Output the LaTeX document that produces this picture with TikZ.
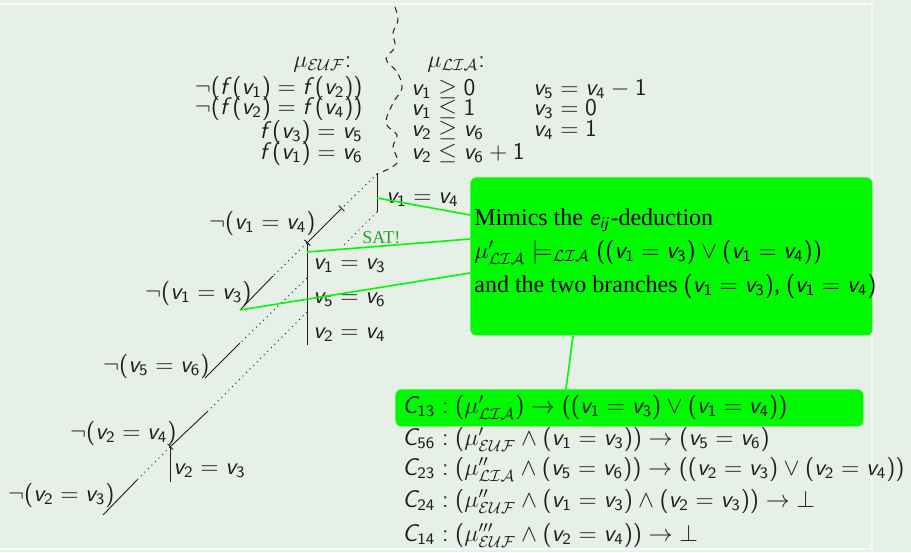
\documentclass[tikz,border=0pt]{standalone}
\usepackage{amsmath, amssymb}
\usepackage[no-math]{fontspec}
\newfontfamily\serifbox{Liberation Serif}
\usetikzlibrary{arrows.meta, positioning, calc}

% sans serif math, as on the slide
\DeclareSymbolFont{operators}{OT1}{cmss}{m}{n}
\SetSymbolFont{operators}{bold}{OT1}{cmss}{bx}{n}
\DeclareMathAlphabet{\mathsi}{OT1}{cmss}{m}{sl}
\newcommand{\sv}[1]{\mathsi{v}_{#1}}
\newcommand{\sff}{\mathsi{f}}
\newcommand{\clause}[1]{\mathsi{C}_{#1}}

\definecolor{blockbg}{RGB}{230,240,230}
\definecolor{blockrule}{RGB}{245,250,245}
\definecolor{hilite}{RGB}{0,248,0}
\definecolor{satgreen}{RGB}{40,160,40}
\definecolor{inkgray}{RGB}{30,30,30}

\begin{document}
\begin{tikzpicture}[x=0.5pt, y=-0.5pt, font=\fontsize{12}{15}\selectfont,
    lbl/.style={inner sep=0pt, text=inkgray},
    branch/.style={draw=inkgray, line width=0.45pt},
    hint/.style={draw=inkgray, line width=0.5pt, dotted},
    link/.style={draw=hilite, line width=0.8pt},
    greenbox/.style={fill=hilite, rounded corners=3pt, inner sep=0pt}]
  \useasboundingbox (0,0) rectangle (911,552);
  \fill[blockbg] (0,0) rectangle (911,552);
  \draw[blockrule, line width=1pt] (-5,4) -- (872,4) -- (872,549) -- (-5,549);

  % the cut between the two theories
  \draw[inkgray, line width=0.5pt, dash pattern=on 3pt off 2.5pt]
    plot[smooth, tension=0.6] coordinates {(395,7) (398,20) (393,33) (395,47)
      (386,59) (397,72) (402,88) (393,103) (386,123) (397,135) (393,147)
      (397,163) (377,174)};

  % search tree
  \coordinate (r) at (377,174);
  \coordinate (r1) at (377,212);
  \coordinate (a) at (307,243);
  \coordinate (a1) at (307,278);
  \coordinate (a2) at (307,312);
  \coordinate (a3) at (307,345);
  \coordinate (b) at (170,447);
  \coordinate (b1) at (170,482);
  \coordinate (n14) at (342,208);
  \coordinate (n13) at (273,276);
  \coordinate (n13e) at (240,310);
  \coordinate (sat) at (342,247);
  \coordinate (n56) at (240,343);
  \coordinate (n56e) at (205,378);
  \coordinate (n24) at (207,412);
  \coordinate (n23) at (137,480);
  \coordinate (n23e) at (103,515);

  \draw[branch] (r) -- (r1);
  \draw[branch] (a) -- (a3);
  \draw[branch] (b) -- (b1);
  \draw[hint] (r) -- (n14);
  \draw[branch, {Bar[width=4pt]}-{Bar[width=4pt]}] (n14) -- (a);
  \draw[hint] (a) -- (n13);
  \draw[branch] (n13) -- (n13e);
  \draw[hint] (r1) -- (sat);
  \draw[hint] (a1) -- (n56);
  \draw[branch] (n56) -- (n56e);
  \draw[hint] (a2) -- (n24);
  \draw[branch, -{Bar[width=4pt]}] (n24) -- (b);
  \draw[hint] (b) -- (n23);
  \draw[branch] (n23) -- (n23e);

  \node[lbl, anchor=base west] (l14) at (386,203) {$\sv1 = \sv4$};
  \node[lbl, anchor=base east] (ln14) at (316,229) {$\neg(\sv1 = \sv4)$};
  \node[lbl, anchor=base west] (l13) at (313,269) {$\sv1 = \sv3$};
  \node[lbl, anchor=base west] (l56) at (313,303) {$\sv5 = \sv6$};
  \node[lbl, anchor=base west] (l24) at (313,338) {$\sv2 = \sv4$};
  \node[lbl, anchor=base east] (ln13) at (252,299) {$\neg(\sv1 = \sv3)$};
  \node[lbl, anchor=base east] (ln56) at (210,372) {$\neg(\sv5 = \sv6)$};
  \node[lbl, anchor=base east] (ln24) at (177,439) {$\neg(\sv2 = \sv4)$};
  \node[lbl, anchor=base west] (l23) at (173,474) {$\sv2 = \sv3$};
  \node[lbl, anchor=base east] (ln23) at (115,501) {$\neg(\sv2 = \sv3)$};
  \node[anchor=base west, inner sep=0pt, text=satgreen,
        font=\serifbox\fontsize{9}{9}\selectfont] (satlbl) at (362,243) {SAT!};

  % the two models
  \node[lbl, anchor=base west] (euf) at (293,67) {$\mu_{\mathcal{EUF}}{:}$};
  \node[lbl, anchor=base west] (lia) at (427,67) {$\mu_{\mathcal{LIA}}{:}$};
  \node[lbl, anchor=base east] (e1) at (363,94) {$\neg(\sff(\sv1) = \sff(\sv2))$};
  \node[lbl, anchor=base east] (e2) at (363,114) {$\neg(\sff(\sv2) = \sff(\sv4))$};
  \node[lbl, anchor=base east] (e3) at (363,138) {$\sff(\sv3) = \sv5$};
  \node[lbl, anchor=base east] (e4) at (363,159) {$\sff(\sv1) = \sv6$};
  \node[lbl, anchor=base west] (p1) at (411,95) {$\sv1 \geq 0$};
  \node[lbl, anchor=base west] (p2) at (411,115) {$\sv1 \leq 1$};
  \node[lbl, anchor=base west] (p3) at (411,136) {$\sv2 \geq \sv6$};
  \node[lbl, anchor=base west] (p4) at (411,159) {$\sv2 \leq \sv6 + 1$};
  \node[lbl, anchor=base west] (q1) at (533,95) {$\sv5 = \sv4 - 1$};
  \node[lbl, anchor=base west] (q2) at (533,115) {$\sv3 = 0$};
  \node[lbl, anchor=base west] (q3) at (533,136) {$\sv4 = 1$};

  % explanation box
  \node[greenbox, minimum width=201pt, minimum height=79pt, anchor=north west]
    (mimic) at (470,177) {};
  \node[anchor=base west, inner sep=0pt, font=\serifbox\fontsize{12}{15}\selectfont]
    (m1) at (474,225) {Mimics the $\mathsi{e}_{\mathsi{ij}}$-deduction};
  \node[anchor=base west, inner sep=0pt, font=\serifbox\fontsize{12}{15}\selectfont]
    (m2) at (474,258) {$\mu'_{\mathcal{LIA}} \models_{\mathcal{LIA}} ((\sv1 = \sv3) \vee (\sv1 = \sv4))$};
  \node[anchor=base west, inner sep=0pt, font=\serifbox\fontsize{12}{15}\selectfont]
    (m3) at (474,292) {and the two branches $(\sv1 = \sv3)$, $(\sv1 = \sv4)$};

  % learned clauses
  \node[greenbox, minimum width=234pt, minimum height=18.5pt, anchor=north west]
    (hl) at (395,389) {};
  \node[lbl, anchor=base west] (c13) at (402,413)
    {$\clause{13} : (\mu'_{\mathcal{LIA}}) \rightarrow ((\sv1 = \sv3) \vee (\sv1 = \sv4))$};
  \node[lbl, anchor=base west] (c56) at (402,445)
    {$\clause{56} : (\mu'_{\mathcal{EUF}} \wedge (\sv1 = \sv3)) \rightarrow (\sv5 = \sv6)$};
  \node[lbl, anchor=base west] (c23) at (402,475)
    {$\clause{23} : (\mu''_{\mathcal{LIA}} \wedge (\sv5 = \sv6)) \rightarrow ((\sv2 = \sv3) \vee (\sv2 = \sv4))$};
  \node[lbl, anchor=base west] (c24) at (402,507)
    {$\clause{24} : (\mu''_{\mathcal{EUF}} \wedge (\sv1 = \sv3) \wedge (\sv2 = \sv3)) \rightarrow \bot$};
  \node[lbl, anchor=base west] (c14) at (402,541)
    {$\clause{14} : (\mu'''_{\mathcal{EUF}} \wedge (\sv2 = \sv4)) \rightarrow \bot$};

  % links to the box
  \draw[link] ($(r)!0.63!(r1)$) -- ($(mimic.north west)+(0,38)$);
  \draw[link] ($(a)+(0,9)$) -- ($(mimic.north west)+(0,62)$);
  \draw[link] (n13e) -- ($(mimic.north west)+(0,96)$);
  \draw[link] ($(mimic.south west)+(103,0)$) -- ($(hl.north west)+(171,0)$);
\end{tikzpicture}
\end{document}
